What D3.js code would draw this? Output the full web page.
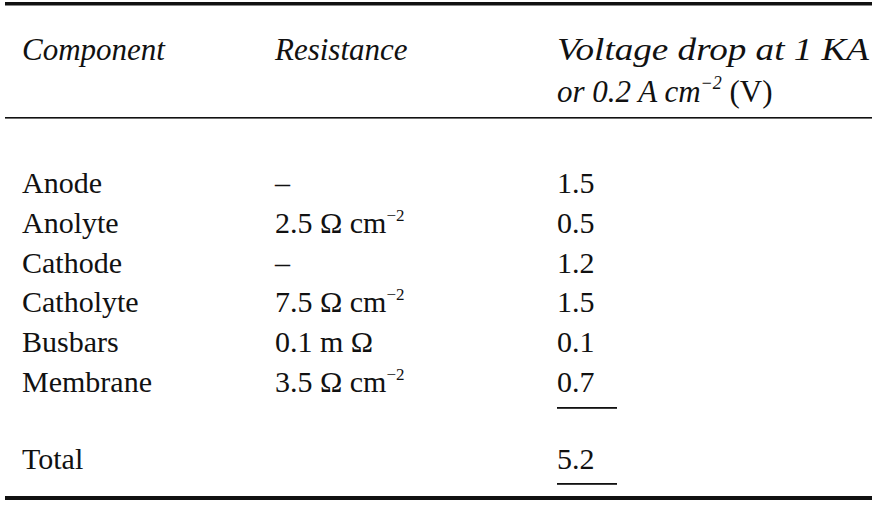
<!DOCTYPE html>
<html><head><meta charset="utf-8">
<script src="https://cdn.jsdelivr.net/npm/d3@7"></script>
<style>body{margin:0;background:#fff}</style></head>
<body><svg id="c" width="877" height="511"></svg>
<script>
const components = ["Anode","Anolyte","Cathode","Catholyte","Busbars","Membrane"];
const resistances = ["–","2.5 Ω cm⁻²","–","7.5 Ω cm⁻²","0.1 m Ω","3.5 Ω cm⁻²"];
const voltages = ["1.5","0.5","1.2","1.5","0.1","0.7"];
const totalLabel = "Total", totalValue = "5.2";
const headers = ["Component","Resistance"];

const svg = d3.select("#c");
const F = "'Liberation Serif','DejaVu Serif',serif";
const col = d3.scaleOrdinal().domain([0,1,2]).range([22,275,557]);
const y = d3.scaleBand().domain(d3.range(components.length)).range([163,402]);
const base = i => y(i) + y.bandwidth()/2 + 10;

svg.append("rect").attr("x",5).attr("y",2).attr("width",867).attr("height",3.5).attr("fill","#111");
svg.append("rect").attr("x",5).attr("y",117).attr("width",867).attr("height",1.6).attr("fill","#111");
svg.append("rect").attr("x",5).attr("y",496).attr("width",867).attr("height",4).attr("fill","#111");

const ht = svg.append("g").attr("font-family",F).attr("font-style","italic").attr("font-size",31).attr("fill","#111");
headers.forEach((h,i)=>ht.append("text").attr("x",col(i)).attr("y",60).text(h));
ht.append("text").attr("x",col(2)).attr("y",60).attr("textLength",312).attr("lengthAdjust","spacingAndGlyphs").text("Voltage drop at 1 KA");
const t2 = ht.append("text").attr("x",col(2)).attr("y",102);
t2.append("tspan").text("or 0.2 ");
t2.append("tspan").text("A cm");
t2.append("tspan").attr("font-size",18).attr("dy",-13).text("−2");
t2.append("tspan").attr("dy",13).attr("font-style","normal").text(" (V)");

const body = svg.append("g").attr("font-family",F).attr("font-size",30).attr("fill","#111");
components.forEach((c,i)=>{
  body.append("text").attr("x",col(0)).attr("y",base(i)).text(c);
  const r = resistances[i];
  const m = r.match(/^(.*?)⁻²$/);
  const t = body.append("text").attr("x",col(1)).attr("y",base(i));
  if(m){ t.append("tspan").text(m[1]); t.append("tspan").attr("font-size",17).attr("dy",-12).text("−2"); }
  else t.text(r);
  body.append("text").attr("x",col(2)).attr("y",base(i)).text(voltages[i]);
});
body.append("text").attr("x",col(0)).attr("y",469).text(totalLabel);
body.append("text").attr("x",col(2)).attr("y",469).text(totalValue);
svg.append("rect").attr("x",col(2)).attr("y",407).attr("width",60).attr("height",1.8).attr("fill","#111");
svg.append("rect").attr("x",col(2)).attr("y",483).attr("width",60).attr("height",1.8).attr("fill","#111");
</script></body></html>
